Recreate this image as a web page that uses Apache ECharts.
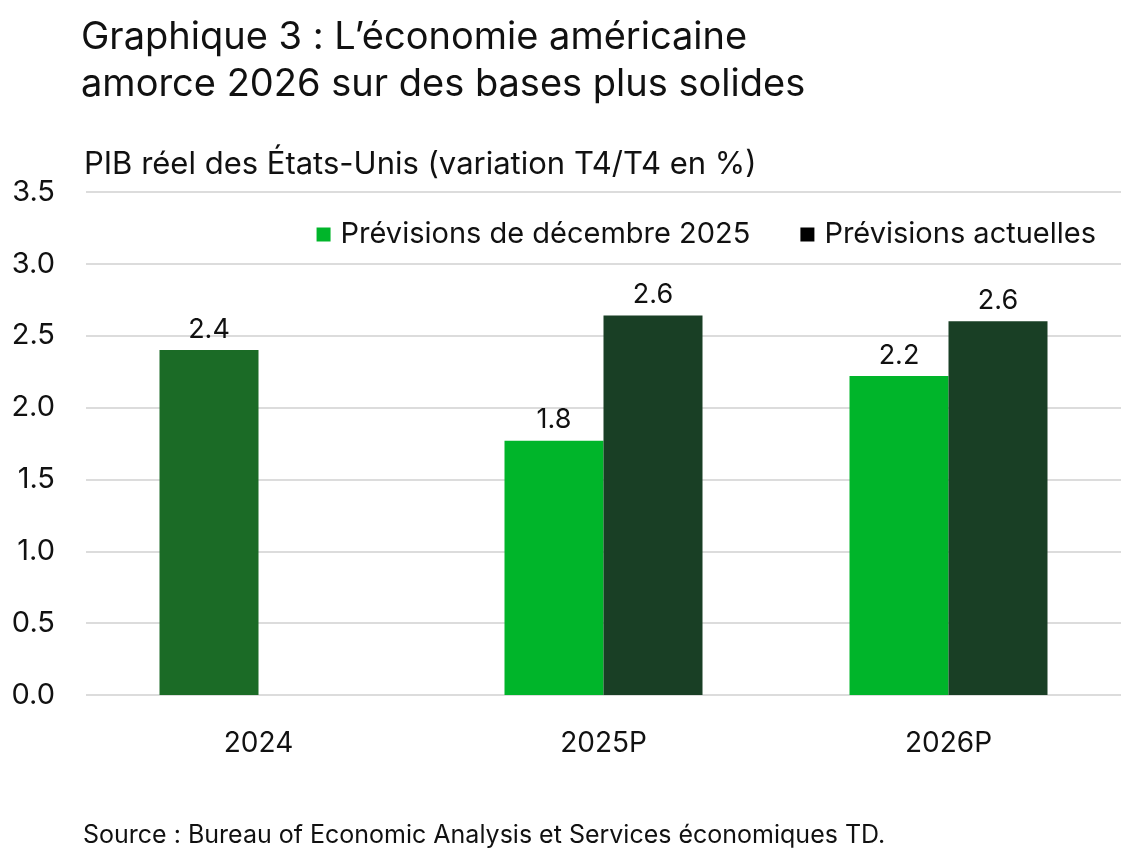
<!DOCTYPE html>
<html>
<head>
<meta charset="utf-8">
<script src="https://cdn.jsdelivr.net/npm/echarts@6/dist/echarts.min.js"></script>
<style>
html,body{margin:0;padding:0;background:#fff;}
#chart{width:1139px;height:850px;}
</style>
</head>
<body>
<div id="chart"></div>
<script>
const categories = ['2024', '2025P', '2026P'];
const seriesNames = ['Prévisions de décembre 2025', 'Prévisions actuelles'];
const decemberForecast = [2.4, 1.77, 2.22];
const currentForecast = [null, 2.64, 2.6];
const yTicks = [0, 0.5, 1, 1.5, 2, 2.5, 3, 3.5];

const FONT = 'Inter';
const chart = echarts.init(document.getElementById('chart'), null, {renderer: 'canvas'});

const greenData = decemberForecast.map((v, i) => i === 0
  ? {value: v, itemStyle: {color: '#1b6b26'}}
  : {value: v});

const option = {
  backgroundColor: '#ffffff',
  animation: false,
  textStyle: {fontFamily: FONT},
  title: [{
    text: 'Graphique 3 : L\u2019économie américaine\namorce 2026 sur des bases plus solides',
    left: 76, top: 9,
    textStyle: {fontFamily: FONT, fontSize: 38, fontWeight: 'normal', color: '#111', lineHeight: 47}
  }, {
    text: 'PIB réel des États-Unis (variation T4/T4 en %)',
    left: 79, top: 144,
    textStyle: {fontFamily: FONT, fontSize: 31, fontWeight: 'normal', color: '#111'}
  }, {
    text: 'Source : Bureau of Economic Analysis et Services économiques TD.',
    left: 78, top: 818,
    textStyle: {fontFamily: FONT, fontSize: 25, fontWeight: 'normal', color: '#111'}
  }],
  legend: {
    right: 38, top: 215,
    itemWidth: 14, itemHeight: 14, itemGap: 50,
    icon: 'rect',
    textStyle: {fontFamily: FONT, fontSize: 29, color: '#111', padding: [0, 0, 0, 5]},
    data: [
      {name: seriesNames[0], itemStyle: {color: '#00b52a'}},
      {name: seriesNames[1], itemStyle: {color: '#000000'}}
    ]
  },
  grid: {left: 86, right: 18, top: 192, bottom: 155, containLabel: false},
  xAxis: {
    type: 'category',
    data: categories,
    axisLine: {show: false},
    axisTick: {show: false},
    axisLabel: {fontFamily: FONT, fontSize: 28, color: '#111', margin: 35}
  },
  yAxis: {
    type: 'value',
    min: 0, max: 3.5, interval: 0.5,
    axisLine: {show: false},
    axisTick: {show: false},
    splitLine: {lineStyle: {color: '#dcdcdc', width: 2}},
    axisLabel: {fontFamily: FONT, fontSize: 29, color: '#111', margin: 31,
      formatter: v => v.toFixed(1)}
  },
  series: [{
    name: seriesNames[0],
    type: 'bar',
    data: greenData,
    barWidth: 99,
    barGap: '0%',
    itemStyle: {color: '#00b52a'},
    label: {show: true, position: 'top', distance: 7, fontFamily: FONT, fontSize: 27, color: '#111',
      formatter: p => p.value == null ? '' : Number(p.value).toFixed(1)}
  }, {
    name: seriesNames[1],
    type: 'bar',
    data: currentForecast,
    barWidth: 99,
    barGap: '0%',
    itemStyle: {color: '#193f25'},
    label: {show: true, position: 'top', distance: 7, fontFamily: FONT, fontSize: 27, color: '#111',
      formatter: p => p.value == null ? '' : Number(p.value).toFixed(1)}
  }]
};
chart.setOption(option);
</script>
</body>
</html>
